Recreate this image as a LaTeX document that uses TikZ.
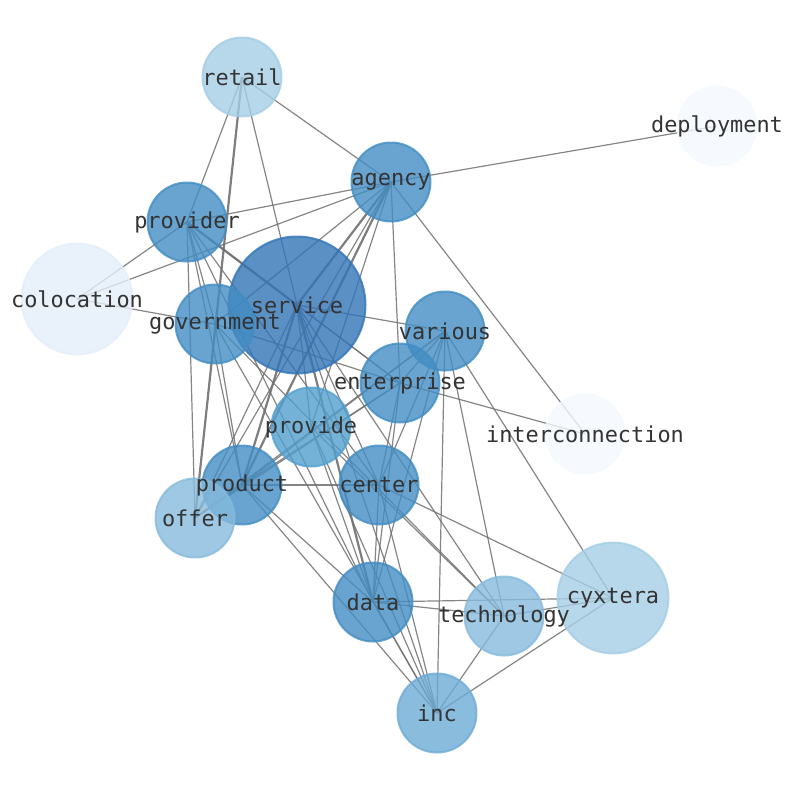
\documentclass[tikz,border=0pt]{standalone}
\usepackage{fontspec}
\setmonofont{DejaVu Sans Mono}
\usetikzlibrary{backgrounds}

\definecolor{cServ}{RGB}{50,116,183}
\definecolor{cMid}{RGB}{66,141,195}
\definecolor{cProv}{RGB}{83,159,206}
\definecolor{cInc}{RGB}{108,171,213}
\definecolor{cOff}{RGB}{134,186,220}
\definecolor{cRet}{RGB}{165,205,229}
\definecolor{cColo}{RGB}{228,238,249}
\definecolor{cPale}{RGB}{244,249,255}
\definecolor{wordgray}{RGB}{51,51,51}
\definecolor{linkgray}{RGB}{112,112,112}

\tikzset{
  vertex/.style={circle, inner sep=0pt, line width=2pt, fill opacity=0.8, draw opacity=0.8},
  small/.style={vertex, minimum size=79pt},
  big/.style={vertex, minimum size=111pt},
  huge/.style={vertex, minimum size=137pt},
  word/.style={inner sep=0pt, text=wordgray, font=\ttfamily\fontsize{21.9}{26}\selectfont},
  link/.style={draw=linkgray, line width=1.2pt, draw opacity=0.85},
  heavylink/.style={link, line width=2.2pt, draw opacity=0.9}
}

\begin{document}
\begin{tikzpicture}[x=1pt,y=1pt,yscale=-1,xscale=1]
	\useasboundingbox (0,0) rectangle (794,790);

	% Circles
	\node[small, fill=cRet, draw=cRet] (retail) at (242,77) {};
	\node[small, fill=cPale, draw=cPale] (deployment) at (717,126) {};
	\node[small, fill=cMid, draw=cMid] (agency) at (391,182) {};
	\node[small, fill=cMid, draw=cMid] (provider) at (187,222) {};
	\node[big, fill=cColo, draw=cColo] (colocation) at (77,299) {};
	\node[huge, fill=cServ, draw=cServ] (service) at (297,305) {};
	\node[small, fill=cMid, draw=cMid] (government) at (215,324) {};
	\node[small, fill=cMid, draw=cMid] (various) at (445,331) {};
	\node[small, fill=cMid, draw=cMid] (enterprise) at (400,383) {};
	\node[small, fill=cProv, draw=cProv] (provide) at (311,427) {};
	\node[small, fill=cPale, draw=cPale] (interconnection) at (585,434) {};
	\node[small, fill=cMid, draw=cMid] (product) at (242,485) {};
	\node[small, fill=cMid, draw=cMid] (center) at (379,485) {};
	\node[small, fill=cOff, draw=cOff] (offer) at (195,518) {};
	\node[big, fill=cRet, draw=cRet] (cyxtera) at (613,598) {};
	\node[small, fill=cMid, draw=cMid] (data) at (373,602) {};
	\node[small, fill=cOff, draw=cOff] (technology) at (504,616) {};
	\node[small, fill=cInc, draw=cInc] (inc) at (437,713) {};

	% Labels
	\node[word] (retail-w) at (retail.center) {retail};
	\node[word] (deployment-w) at (deployment.center) {deployment};
	\node[word] (agency-w) at (agency.center) {agency};
	\node[word] (provider-w) at (provider.center) {provider};
	\node[word] (colocation-w) at (colocation.center) {colocation};
	\node[word] (service-w) at (service.center) {service};
	\node[word] (government-w) at (government.center) {government};
	\node[word] (various-w) at (various.center) {various};
	\node[word] (enterprise-w) at (enterprise.center) {enterprise};
	\node[word] (provide-w) at (provide.center) {provide};
	\node[word] (interconnection-w) at (interconnection.center) {interconnection};
	\node[word] (product-w) at (product.center) {product};
	\node[word] (center-w) at (center.center) {center};
	\node[word] (offer-w) at (offer.center) {offer};
	\node[word] (cyxtera-w) at (cyxtera.center) {cyxtera};
	\node[word] (data-w) at (data.center) {data};
	\node[word] (technology-w) at (technology.center) {technology};
	\node[word] (inc-w) at (inc.center) {inc};

	\begin{pgfonlayer}{background}
	% Links from agency
	\draw[link] (agency.center) -- (deployment.center);
	\draw[link] (agency.center) -- (retail.center);
	\draw[link] (agency.center) -- (provider.center);
	\draw[link] (agency.center) -- (colocation.center);
	\draw[link] (agency.center) -- (government.center);
	\draw[heavylink] (agency.center) -- (service.center);
	\draw[heavylink] (agency.center) -- (product.center);
	\draw[link] (agency.center) -- (provide.center);
	\draw[link] (agency.center) -- (offer.center);
	\draw[link] (agency.center) -- (enterprise.center);
	\draw[link] (agency.center) -- (interconnection.center);
	% Links from retail
	\draw[link] (retail.center) -- (provider.center);
	\draw[link] (retail.center) -- (service.center);
	\draw[heavylink] (retail.center) -- (offer.center);
	% Links from provider
	\draw[link] (provider.center) -- (colocation.center);
	\draw[heavylink] (provider.center) -- (service.center);
	\draw[link] (provider.center) -- (government.center);
	\draw[link] (provider.center) -- (offer.center);
	\draw[link] (provider.center) -- (product.center);
	\draw[link] (provider.center) -- (enterprise.center);
	\draw[link] (provider.center) -- (center.center);
	\draw[link] (provider.center) -- (data.center);
	% Links from colocation and government
	\draw[link] (colocation.center) -- (government.center);
	\draw[link] (government.center) -- (enterprise.center);
	\draw[link] (government.center) -- (product.center);
	\draw[link] (government.center) -- (technology.center);
	\draw[link] (government.center) -- (inc.center);
	% Links from service
	\draw[link] (service.center) -- (various.center);
	\draw[link] (service.center) -- (enterprise.center);
	\draw[link] (service.center) -- (provide.center);
	\draw[heavylink] (service.center) -- (product.center);
	\draw[link] (service.center) -- (offer.center);
	\draw[link] (service.center) -- (center.center);
	\draw[heavylink] (service.center) -- (data.center);
	\draw[link] (service.center) -- (technology.center);
	\draw[link] (service.center) -- (inc.center);
	% Links from various
	\draw[link] (various.center) -- (enterprise.center);
	\draw[link] (various.center) -- (product.center);
	\draw[link] (various.center) -- (offer.center);
	\draw[link] (various.center) -- (center.center);
	\draw[link] (various.center) -- (data.center);
	\draw[link] (various.center) -- (inc.center);
	\draw[link] (various.center) -- (technology.center);
	\draw[link] (various.center) -- (cyxtera.center);
	% Links from enterprise
	\draw[link] (enterprise.center) -- (interconnection.center);
	\draw[link] (enterprise.center) -- (product.center);
	\draw[link] (enterprise.center) -- (offer.center);
	\draw[link] (enterprise.center) -- (center.center);
	\draw[link] (enterprise.center) -- (data.center);
	% Links from provide and product
	\draw[link] (provide.center) -- (technology.center);
	\draw[link] (provide.center) -- (data.center);
	\draw[link] (provide.center) -- (inc.center);
	\draw[link] (product.center) -- (center.center);
	\draw[link] (product.center) -- (data.center);
	\draw[link] (product.center) -- (inc.center);
	\draw[link] (product.center) -- (offer.center);
	% Links in the lower part
	\draw[link] (center.center) -- (data.center);
	\draw[link] (center.center) -- (cyxtera.center);
	\draw[link] (center.center) -- (inc.center);
	\draw[link] (data.center) -- (technology.center);
	\draw[link] (data.center) -- (cyxtera.center);
	\draw[link] (data.center) -- (inc.center);
	\draw[link] (technology.center) -- (cyxtera.center);
	\draw[link] (technology.center) -- (inc.center);
	\draw[link] (cyxtera.center) -- (inc.center);
	\end{pgfonlayer}

\end{tikzpicture}
\end{document}
